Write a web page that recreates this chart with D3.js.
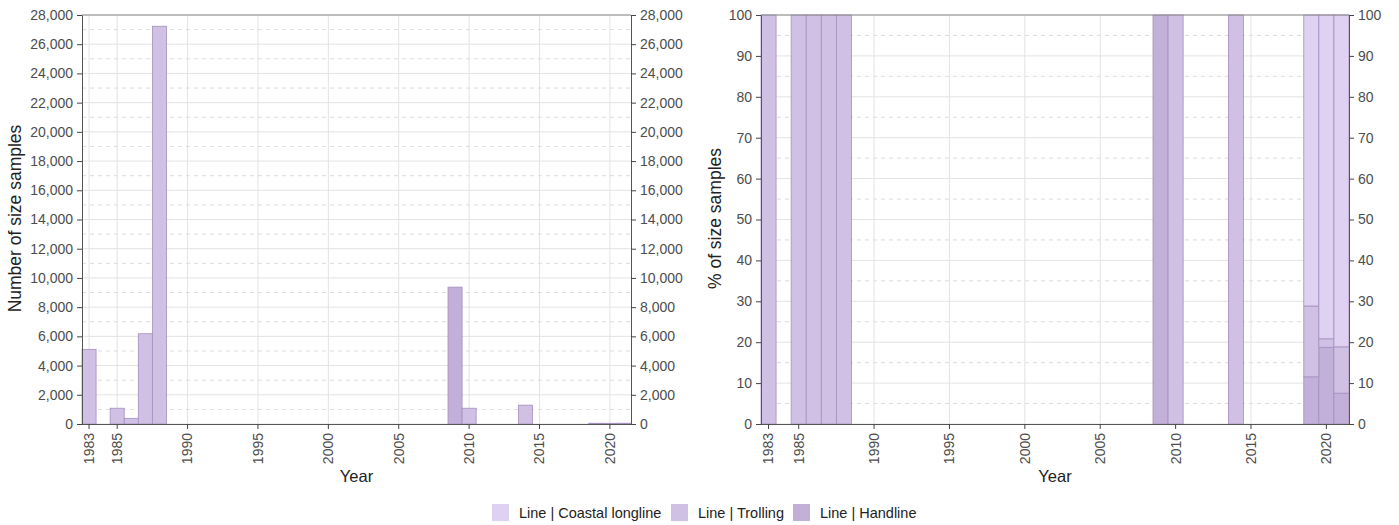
<!DOCTYPE html>
<html>
<head>
<meta charset="utf-8">
<script src="https://cdn.jsdelivr.net/npm/d3@7"></script>
<style>
  body { margin: 0; background: #fff; }
  svg { font-family: "Liberation Sans", Arial, sans-serif; }
</style>
</head>
<body>
<div class="canvas"></div>
<script>
// data
const years = d3.range(1983, 2022);
const gears = ['Line | Handline', 'Line | Trolling', 'Line | Coastal longline'];
const yearTicks = [1983, 1985, 1990, 1995, 2000, 2005, 2010, 2015, 2020];
const countTicks = d3.range(0, 28001, 2000);
const pctTicks = d3.range(0, 101, 10);

// samples per year by gear
const handline = { 2009: 9370, 2019: 6, 2020: 9, 2021: 4 };
const trolling = { 1983: 5110, 1985: 1080, 1986: 390, 1987: 6180, 1988: 27230,
                   2010: 1080, 2014: 1290, 2019: 9, 2020: 1, 2021: 6 };
const coastal  = { 2019: 37, 2020: 38, 2021: 43 };

const colors = {
  'Line | Coastal longline': '#dfd1f2',
  'Line | Trolling': '#cfc0e4',
  'Line | Handline': '#c2b0d8'
};

const rows = years.map(y => ({
  year: y,
  'Line | Handline': handline[y] || 0,
  'Line | Trolling': trolling[y] || 0,
  'Line | Coastal longline': coastal[y] || 0
}));

const pctRows = rows.map(r => {
  const total = d3.sum(gears, g => r[g]);
  const o = { year: r.year };
  gears.forEach(g => o[g] = total ? r[g] / total * 100 : 0);
  return o;
});

const svg = d3.select('.canvas')
  .append('svg')
  .attr('width', 1399)
  .attr('height', 525);

const drawPanel = (opts) => {
  const { left, right, top, bottom, data, max, ticks, minorStep, fmt, title, titleX } = opts;

  const x = d3.scaleBand().domain(years).range([left, right]).padding(0);
  const y = d3.scaleLinear().domain([0, max]).range([bottom, top]);

  const g = svg.append('g');

  // minor dashed grid
  g.append('g').selectAll('line')
    .data(d3.range(minorStep, max, minorStep * 2))
    .join('line')
      .attr('x1', left).attr('x2', right)
      .attr('y1', d => y(d)).attr('y2', d => y(d))
      .attr('stroke', '#dcdcdc')
      .attr('stroke-dasharray', '4,4');

  // major grid
  g.append('g').selectAll('line')
    .data(ticks)
    .join('line')
      .attr('x1', left).attr('x2', right)
      .attr('y1', d => y(d)).attr('y2', d => y(d))
      .attr('stroke', '#e3e3e3');

  g.append('g').selectAll('line')
    .data(yearTicks)
    .join('line')
      .attr('x1', d => x(d) + x.bandwidth() / 2).attr('x2', d => x(d) + x.bandwidth() / 2)
      .attr('y1', top).attr('y2', bottom)
      .attr('stroke', '#e3e3e3');

  // stacked bars
  const stack = d3.stack().keys(gears);
  const series = stack(data);

  g.append('g').selectAll('g')
    .data(series)
    .join('g')
      .attr('fill', d => colors[d.key])
    .selectAll('rect')
    .data(d => d.filter(s => s[1] - s[0] > 0))
    .join('rect')
      .attr('x', d => x(d.data.year))
      .attr('width', x.bandwidth())
      .attr('y', d => y(d[1]))
      .attr('height', d => y(d[0]) - y(d[1]))
      .attr('stroke', '#a58fbf')
      .attr('stroke-width', 0.8);

  // top border
  g.append('line')
    .attr('x1', left).attr('x2', right)
    .attr('y1', top).attr('y2', top)
    .attr('stroke', '#8a8a8a');

  const styleAxis = sel => {
    sel.selectAll('path').attr('stroke', '#555');
    sel.selectAll('line').attr('stroke', '#444');
    sel.selectAll('text').attr('fill', '#4d4d4d').style('font-size', '14px');
  };

  g.append('g')
    .attr('transform', `translate(${left},0)`)
    .call(d3.axisLeft(y).tickValues(ticks).tickFormat(fmt).tickSize(5).tickPadding(4).tickSizeOuter(0))
    .call(styleAxis);

  g.append('g')
    .attr('transform', `translate(${right},0)`)
    .call(d3.axisRight(y).tickValues(ticks).tickFormat(fmt).tickSize(5).tickPadding(4).tickSizeOuter(0))
    .call(styleAxis);

  const xa = g.append('g')
    .attr('transform', `translate(0,${bottom})`)
    .call(d3.axisBottom(x).tickValues(yearTicks).tickSize(5).tickSizeOuter(0))
    .call(styleAxis);
  xa.select('path').attr('d', `M${left},0.5H${right}`);
  xa.selectAll('text')
    .attr('transform', 'rotate(-90)')
    .attr('x', -9)
    .attr('y', 0)
    .attr('dy', '0.35em')
    .attr('text-anchor', 'end');

  svg.append('text')
    .attr('x', (left + right) / 2)
    .attr('y', 482)
    .attr('text-anchor', 'middle')
    .style('font-size', '16.5px')
    .attr('fill', '#222')
    .text('Year');

  svg.append('text')
    .attr('transform', `translate(${titleX},${(top + bottom) / 2 - 1}) rotate(-90)`)
    .attr('text-anchor', 'middle')
    .attr('dy', '0.35em')
    .style('font-size', '17.5px')
    .attr('fill', '#222')
    .text(title);
};

drawPanel({
  left: 82, right: 631, top: 15, bottom: 424,
  data: rows, max: 28000, ticks: countTicks, minorStep: 1000,
  fmt: d3.format(','), title: 'Number of size samples', titleX: 15
});

drawPanel({
  left: 761, right: 1349, top: 15, bottom: 424,
  data: pctRows, max: 100, ticks: pctTicks, minorStep: 5,
  fmt: d3.format('d'), title: '% of size samples', titleX: 715
});

// legend
const legendItems = ['Line | Coastal longline', 'Line | Trolling', 'Line | Handline'];
const legendX = [492, 671, 793];

const legend = svg.append('g').selectAll('g')
  .data(legendItems)
  .join('g')
    .attr('transform', (d, i) => `translate(${legendX[i]},504)`);

legend.append('rect')
  .attr('width', 17).attr('height', 17)
  .attr('fill', d => colors[d]);

legend.append('text')
  .attr('x', 27)
  .attr('y', 8.5)
  .attr('dy', '0.35em')
  .style('font-size', '14.5px')
  .attr('fill', '#222')
  .text(d => d);
</script>
</body>
</html>
